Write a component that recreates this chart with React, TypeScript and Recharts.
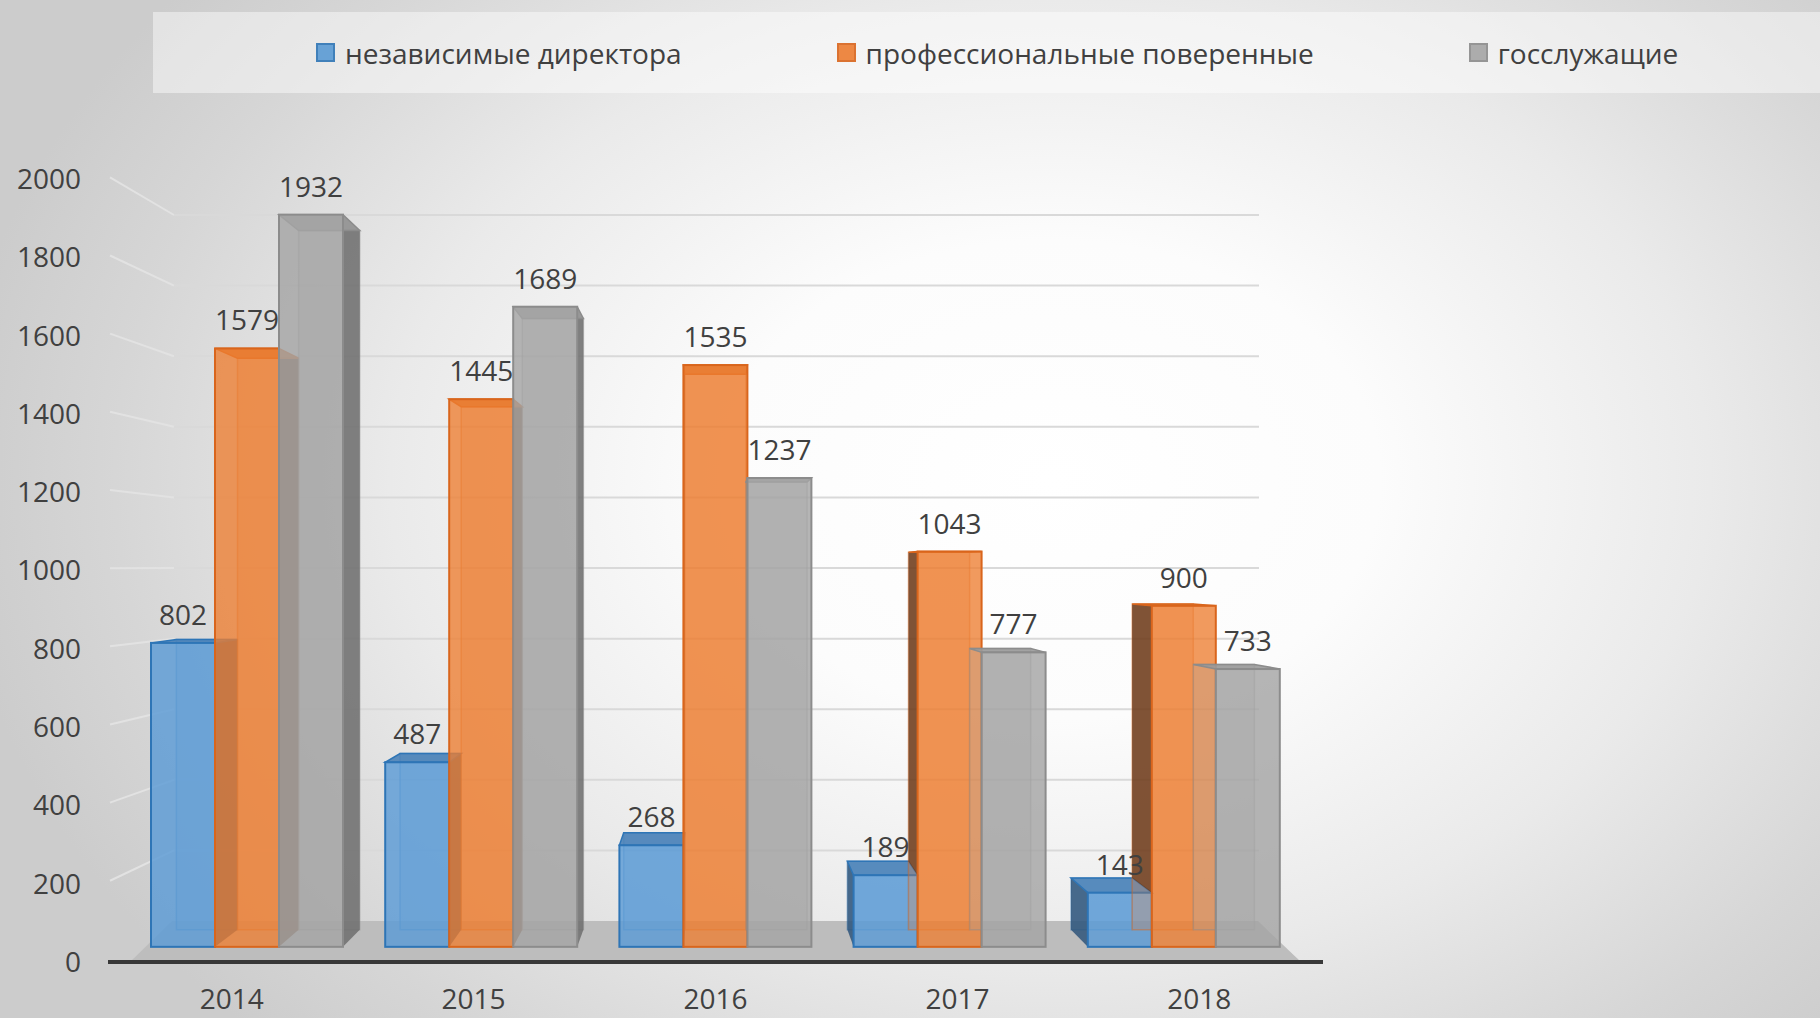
import React from "react";
import {
  BarChart,
  Bar,
  XAxis,
  YAxis,
  LabelList,
  ReferenceLine,
  ReferenceArea,
} from "recharts";

const YEARS = ["2014", "2015", "2016", "2017", "2018"];
const INDEPENDENT = [802, 487, 268, 189, 143];
const PROFESSIONAL = [1579, 1445, 1535, 1043, 900];
const CIVIL = [1932, 1689, 1237, 777, 733];
const Y_TICKS = [0, 200, 400, 600, 800, 1000, 1200, 1400, 1600, 1800, 2000];

const SERIES = [
  { key: "independent", name: "независимые директора", fill: "#5b9bd5", edge: "#2e75b6", side: "#2f557a", top: "#4a82b8", alpha: 0.82 },
  { key: "professional", name: "профессиональные поверенные", fill: "#ed7d31", edge: "#d9651c", side: "#6b3b1c", top: "#d8712c", alpha: 0.78 },
  { key: "civil", name: "госслужащие", fill: "#a5a5a5", edge: "#8c8c8c", side: "#6f6f6f", top: "#9a9a9a", alpha: 0.82 },
];

const data = YEARS.map((year, i) => ({
  year,
  independent: INDEPENDENT[i],
  professional: PROFESSIONAL[i],
  civil: CIVIL[i],
}));

// fake 3D: vanishing point and depth factor
const VP_X = 715;
const VP_Y = 567;
const DEPTH = 0.045;
const FONT = "'Open Sans', sans-serif";
const TEXT = "#404040";

// three value scales share one plot: labels on side wall, bar fronts, back wall
const FRONT_DOMAIN = [-40, 2026];
const BACK_DOMAIN = [-116, 2102];

const toBack = (px: number, py: number) => [px + (VP_X - px) * DEPTH, py + (VP_Y - py) * DEPTH];
const pts = (list: number[][]) => list.map((p) => p.join(",")).join(" ");

function makeBox(si: number) {
  const s = SERIES[si];
  return (props: any) => {
    const { x, y, width: w, height: h, payload } = props;
    if (!h || h <= 0) return null;
    const tl = [x, y], tr = [x + w, y], br = [x + w, y + h], bl = [x, y + h];
    const btl = toBack(x, y), btr = toBack(x + w, y), bbr = toBack(x + w, y + h), bbl = toBack(x, y + h);
    const leftOfCentre = x + w / 2 < VP_X;
    let side;
    if (leftOfCentre) {
      side = [tr, btr, bbr, br];
    } else {
      // left face is hidden behind the previous series' box below its top
      let bottom = y + h;
      if (si > 0) {
        const prev = payload[SERIES[si - 1].key];
        const val = payload[s.key];
        bottom = y + h - prev * (h / val);
      }
      const f = bottom > y ? (bottom - y) / h : 0;
      const lo = [x, y + h * f];
      const blo = toBack(x, y + h * f);
      side = [tl, btl, blo, lo];
    }
    return (
      <g>
        <polygon points={pts([btl, btr, bbr, bbl])} fill={s.fill} fillOpacity={0.25} stroke={s.edge} strokeOpacity={0.45} strokeWidth={1.5} />
        <polygon points={pts(side)} fill={s.side} fillOpacity={0.85} />
        <polygon points={pts([tl, tr, btr, btl])} fill={s.top} fillOpacity={0.9} stroke={s.edge} strokeWidth={1.5} />
        <rect x={x} y={y} width={w} height={h} fill={s.fill} fillOpacity={s.alpha} stroke={s.edge} strokeWidth={2} />
      </g>
    );
  };
}

const GridShape = (props: any) => {
  const { x1, x2, y1 } = props;
  const wallX = x1 + 66;
  const leftY = VP_Y + (y1 - VP_Y) * 1.107;
  return (
    <g>
      <line x1={x1 + 2} y1={leftY} x2={wallX} y2={y1} stroke="#e2e2e2" strokeWidth={2} />
      <line x1={wallX} y1={y1} x2={x2 - 64} y2={y1} stroke="#d9d9d9" strokeWidth={2} />
    </g>
  );
};

const FloorShape = (props: any) => {
  const { x, y, width, height } = props;
  return (
    <polygon
      points={pts([[x + 42, y], [x + width - 43, y], [x + width, y + height], [x, y + height]])}
      fill="#bdbdbd"
    />
  );
};

const YearTick = (props: any) => {
  const { x, y, payload } = props;
  return (
    <text x={VP_X + (x - VP_X) * 1.033} y={y} dy="0.71em" textAnchor="middle" fill={TEXT} fontSize={28} fontFamily={FONT}>
      {payload.value}
    </text>
  );
};

export default function App() {
  return (
    <div
      style={{
        position: "relative",
        width: 1820,
        height: 1018,
        overflow: "hidden",
        fontFamily: FONT,
        background:
          "radial-gradient(ellipse 1100px 800px at 1050px 480px, #ffffff 0%, #fcfcfc 30%, #eaeaea 60%, #d6d6d6 85%, #cccccc 100%)",
      }}
    >
      <style>{"body{margin:0}"}</style>
      <div
        style={{
          position: "absolute",
          top: 12,
          left: 153,
          width: 1667,
          height: 81,
          background: "rgba(255,255,255,0.45)",
          display: "flex",
          alignItems: "center",
          paddingLeft: 163,
          boxSizing: "border-box",
          gap: 155,
        }}
      >
        {SERIES.map((s) => (
          <div key={s.key} style={{ display: "flex", alignItems: "center", gap: 10 }}>
            <span
              style={{
                display: "inline-block",
                width: 15,
                height: 15,
                background: s.fill,
                opacity: 0.9,
                border: `2px solid ${s.edge}`,
              }}
            />
            <span style={{ fontSize: 28, color: TEXT, lineHeight: "34px" }}>{s.name}</span>
          </div>
        ))}
      </div>
      <BarChart
        width={1820}
        height={1018}
        data={data}
        margin={{ top: 179, right: 497, bottom: 0, left: 28 }}
        barGap={0}
        barSize={64}
        style={{ position: "absolute", top: 0, left: 0 }}
      >
        <XAxis
          dataKey="year"
          padding={{ left: 22, right: 22 }}
          height={56}
          tickLine={false}
          tickSize={0}
          tickMargin={27}
          axisLine={{ stroke: "#383838", strokeWidth: 4 }}
          tick={<YearTick />}
        />
        <YAxis
          yAxisId="label"
          type="number"
          domain={[0, 2000]}
          ticks={Y_TICKS}
          allowDataOverflow
          width={80}
          tickLine={false}
          tickSize={0}
          tickMargin={27}
          axisLine={false}
          tick={{ fill: TEXT, fontSize: 28, fontFamily: FONT }}
        />
        <YAxis yAxisId="front" type="number" domain={FRONT_DOMAIN} allowDataOverflow hide width={0} />
        <YAxis yAxisId="back" type="number" domain={BACK_DOMAIN} allowDataOverflow hide width={0} />
        {Y_TICKS.filter((v) => v > 0).map((v) => (
          <ReferenceLine key={v} yAxisId="back" y={v} ifOverflow="visible" shape={GridShape} zIndex={-60} />
        ))}
        <ReferenceArea
          yAxisId="back"
          y1={0}
          y2={BACK_DOMAIN[0]}
          ifOverflow="visible"
          shape={FloorShape}
          zIndex={-55}
        />
        {SERIES.map((s, si) => (
          <Bar
            key={s.key}
            yAxisId="front"
            dataKey={s.key}
            name={s.name}
            fill={s.fill}
            shape={makeBox(si)}
            isAnimationActive={false}
          >
            <LabelList dataKey={s.key} position="top" offset={18} fill={TEXT} fontSize={28} fontFamily={FONT} />
          </Bar>
        ))}
      </BarChart>
    </div>
  );
}
